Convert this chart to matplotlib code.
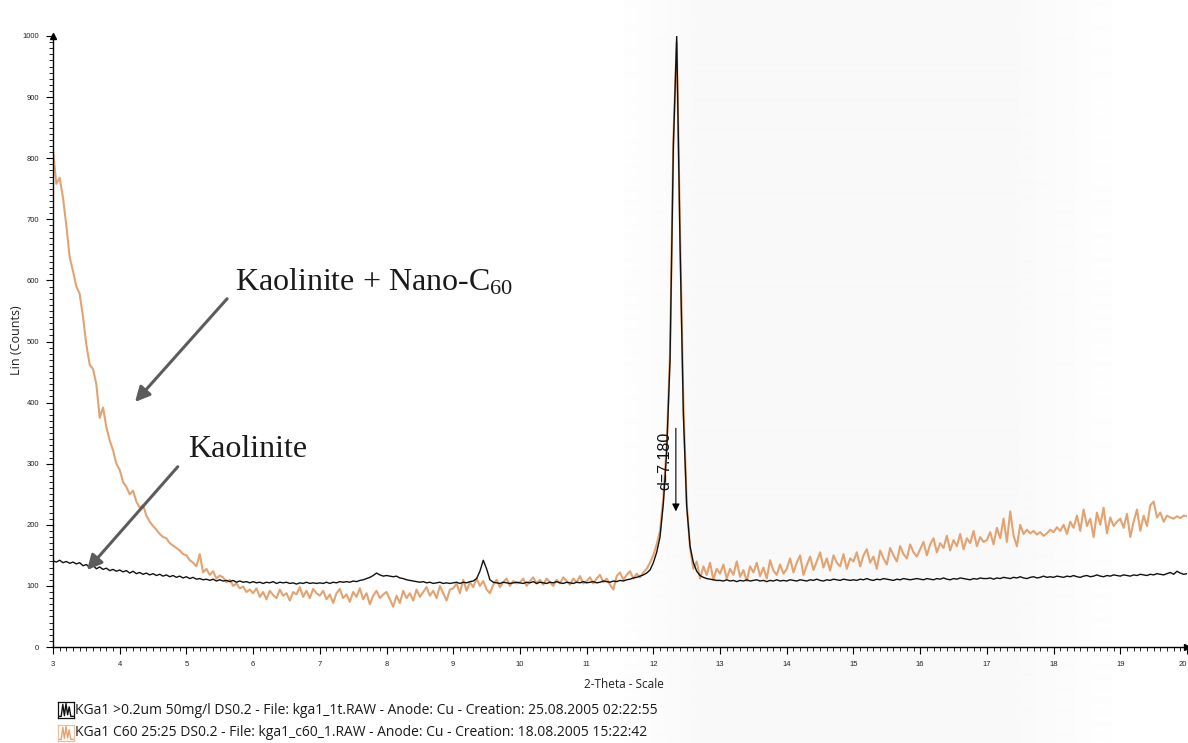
import numpy as np
import matplotlib
matplotlib.use("Agg")
import matplotlib.pyplot as plt
from matplotlib.patches import FancyArrowPatch
from matplotlib.ticker import MultipleLocator, FixedLocator

# ---------------------------------------------------------------------------
# Scan grid (2-Theta, Cu anode) and measured intensities, Lin (Counts)
# ---------------------------------------------------------------------------
scan_start, scan_end, scan_step = 3.0, 20.0, 0.05
two_theta = np.round(np.arange(scan_start, scan_end + scan_step / 2, scan_step), 2)

# KGa1 >0.2um 50mg/l  (one row per degree: x.00 ... x.95)
kaolinite_counts = (
    [141, 139, 142, 138, 140, 137, 139, 136, 138, 133, 135, 130, 134, 128, 131, 127, 129, 125, 127, 124]
    + [126, 123, 125, 121, 124, 120, 122, 119, 121, 118, 120, 117, 119, 116, 118, 115, 117, 114, 116, 113]
    + [115, 112, 114, 111, 112, 110, 111, 109, 111, 108, 110, 108, 109, 107, 109, 106, 108, 106, 107, 105]
    + [107, 105, 106, 104, 106, 105, 107, 104, 106, 105, 106, 104, 105, 103, 105, 104, 106, 104, 105, 104]
    + [105, 104, 106, 104, 106, 105, 107, 106, 107, 106, 108, 107, 109, 110, 112, 114, 117, 121, 118, 116]
    + [117, 116, 115, 116, 113, 112, 110, 109, 108, 107, 106, 107, 105, 106, 104, 105, 106, 104, 105, 104]
    + [105, 106, 104, 106, 105, 107, 108, 112, 124, 142, 128, 110, 106, 105, 104, 106, 105, 104, 105, 106]
    + [105, 104, 106, 105, 107, 104, 106, 105, 104, 106, 105, 107, 105, 104, 106, 105, 104, 106, 105, 107]
    + [105, 106, 107, 105, 106, 108, 107, 106, 108, 107, 109, 108, 110, 111, 113, 114, 116, 118, 121, 126]
    + [138, 155, 180, 235, 320, 470, 820, 1000, 660, 380, 230, 165, 138, 124, 117, 114, 112, 111, 110, 109]
    + [109, 108, 110, 108, 109, 107, 109, 108, 110, 108, 109, 110, 108, 109, 107, 109, 108, 110, 108, 109]
    + [108, 110, 109, 108, 110, 109, 108, 110, 109, 111, 109, 108, 110, 109, 111, 110, 109, 111, 110, 109]
    + [110, 109, 111, 110, 112, 110, 109, 111, 110, 112, 111, 110, 109, 111, 110, 112, 111, 110, 111, 112]
    + [111, 110, 112, 111, 110, 112, 111, 113, 111, 110, 112, 111, 113, 112, 111, 110, 112, 111, 113, 112]
    + [112, 113, 111, 113, 112, 114, 113, 112, 114, 113, 115, 113, 112, 114, 115, 113, 114, 116, 114, 115]
    + [114, 116, 115, 114, 116, 115, 117, 115, 114, 116, 117, 115, 116, 118, 116, 115, 117, 116, 118, 117]
    + [116, 118, 117, 116, 118, 117, 119, 118, 117, 119, 118, 120, 119, 118, 120, 122, 119, 124, 121, 119]
    + [120]
)

# KGa1 C60 25:25
kaolinite_c60_counts = (
    [812, 758, 768, 735, 690, 638, 615, 590, 578, 540, 495, 462, 455, 430, 375, 392, 360, 338, 322, 300]
    + [290, 270, 262, 250, 256, 238, 228, 232, 215, 205, 198, 192, 185, 180, 178, 170, 166, 162, 158, 152]
    + [150, 142, 138, 132, 152, 122, 128, 118, 124, 112, 117, 114, 106, 110, 100, 104, 96, 99, 90, 94]
    + [88, 96, 82, 90, 78, 92, 85, 80, 94, 84, 88, 76, 90, 86, 98, 82, 92, 80, 95, 88]
    + [84, 92, 78, 86, 72, 88, 95, 80, 86, 74, 90, 82, 96, 78, 88, 70, 84, 92, 80, 86]
    + [90, 78, 66, 84, 72, 92, 80, 88, 76, 94, 82, 90, 98, 84, 92, 80, 100, 88, 76, 94]
    + [96, 104, 88, 110, 92, 106, 98, 112, 100, 108, 94, 88, 102, 110, 98, 106, 112, 100, 108, 104]
    + [106, 112, 100, 108, 114, 104, 110, 102, 112, 106, 100, 110, 104, 114, 108, 102, 112, 106, 116, 104]
    + [108, 114, 104, 112, 118, 106, 112, 102, 94, 116, 122, 110, 118, 124, 112, 120, 114, 122, 128, 138]
    + [150, 168, 190, 245, 330, 480, 830, 990, 680, 400, 235, 162, 128, 140, 112, 132, 118, 138, 110, 128]
    + [120, 135, 112, 128, 118, 140, 115, 126, 108, 132, 122, 138, 116, 130, 112, 142, 125, 118, 135, 120]
    + [128, 145, 122, 138, 150, 118, 134, 148, 126, 140, 155, 130, 145, 125, 150, 138, 132, 152, 128, 145]
    + [140, 155, 132, 150, 160, 138, 148, 128, 158, 145, 135, 162, 150, 140, 165, 152, 145, 168, 155, 148]
    + [160, 172, 150, 168, 178, 155, 170, 162, 182, 158, 175, 165, 185, 160, 178, 170, 190, 165, 180, 172]
    + [175, 188, 168, 195, 178, 210, 172, 222, 182, 165, 200, 185, 192, 186, 190, 184, 188, 182, 186, 192]
    + [188, 196, 190, 200, 185, 205, 195, 215, 190, 225, 198, 210, 180, 220, 200, 228, 186, 212, 198, 205]
    + [210, 195, 218, 180, 205, 225, 190, 215, 198, 232, 238, 212, 220, 205, 215, 212, 210, 214, 211, 215]
    + [214]
)

x_ticks = list(range(3, 21))
y_ticks = list(range(0, 1001, 100))

legend_entries = [
    "KGa1 >0.2um 50mg/l DS0.2 - File: kga1_1t.RAW - Anode: Cu - Creation: 25.08.2005 02:22:55",
    "KGa1 C60 25:25 DS0.2 - File: kga1_c60_1.RAW - Anode: Cu - Creation: 18.08.2005 15:22:42",
]
callout_labels = ["Kaolinite + Nano-C$_{60}$", "Kaolinite"]

# d-spacing of the basal reflection (Angstrom) and Cu K-alpha wavelength
d_spacing = 7.180
wavelength = 1.5406

# ---------------------------------------------------------------------------
BLACK = "#111111"
ORANGE = "#E3A371"
ARROW_GREY = "#5c5c5c"

plt.rcParams["mathtext.fontset"] = "custom"
plt.rcParams["mathtext.rm"] = "Liberation Serif"
plt.rcParams["mathtext.it"] = "Liberation Serif:italic"

W, H = 1188, 743
fig = plt.figure(figsize=(W / 100, H / 100), dpi=100)
fig.patch.set_facecolor("white")

# faint grey shading of the scanned page behind the plot
shade_ax = fig.add_axes([0, 0, 1, 1], zorder=-1)
shade_ax.set_axis_off()
px = np.arange(W)
shade = np.clip(np.minimum((px - 610) / 90.0, (1130 - px) / 120.0), 0, 1) * 0.025
shade_ax.imshow(1 - shade[np.newaxis, :].repeat(2, axis=0), cmap="gray", vmin=0, vmax=1,
                aspect="auto", extent=(0, 1, 0, 1), interpolation="bilinear")
shade_ax.set_xlim(0, 1)
shade_ax.set_ylim(0, 1)

ax_left, ax_right, ax_bottom, ax_top = 53, 1187, 647, 36
ax = fig.add_axes([ax_left / W, (H - ax_bottom) / H,
                   (ax_right - ax_left) / W, (ax_bottom - ax_top) / H])
ax.set_facecolor("none")

ax.plot(two_theta, kaolinite_c60_counts, color=ORANGE, lw=1.5, zorder=2)
ax.plot(two_theta, kaolinite_counts, color=BLACK, lw=1.0, zorder=3)

ax.set_xlim(3, 20)
ax.set_ylim(0, 1000)

for side in ("top", "right"):
    ax.spines[side].set_visible(False)
for side in ("left", "bottom"):
    ax.spines[side].set_linewidth(1.0)
    ax.spines[side].set_color("black")

tick_font = dict(family="Liberation Sans", size=5.5)
ax.xaxis.set_major_locator(FixedLocator(x_ticks))
ax.xaxis.set_minor_locator(MultipleLocator(0.1))
ax.yaxis.set_major_locator(FixedLocator(y_ticks))
ax.yaxis.set_minor_locator(MultipleLocator(10))
ax.set_xticklabels([str(t) for t in x_ticks], fontdict=tick_font, color="#222222")
ax.set_yticklabels([str(t) for t in y_ticks], fontdict=tick_font, color="#222222")
ax.get_xticklabels()[-1].set_horizontalalignment("right")
ax.tick_params(axis="both", which="major", direction="out", length=5, width=0.8, pad=5)
ax.tick_params(axis="both", which="minor", direction="out", length=3, width=0.6)

# axis arrow heads
ax.plot([0], [1], marker="^", color="black", ms=5, transform=ax.transAxes, clip_on=False)
ax.plot([1], [0], marker=">", color="black", ms=5, transform=ax.transAxes, clip_on=False)

# axis titles
fig.text(17 / W, 1 - 340 / H, "Lin (Counts)", rotation=90, ha="center", va="center",
         family="Open Sans", size=9, color="#222222")
fig.text(624 / W, 1 - 684 / H, "2-Theta - Scale", ha="center", va="center",
         family="Open Sans", size=8.5, color="#222222")

# callouts
callout_specs = [
    dict(text_xy=(5.73, 583), tail=(5.61, 570), head=(4.23, 401)),
    dict(text_xy=(5.02, 311), tail=(4.87, 295), head=(3.51, 126)),
]
for label, spec in zip(callout_labels, callout_specs):
    ax.text(*spec["text_xy"], label, family="Liberation Serif", size=23,
            color="#1a1a1a", ha="left", va="baseline", zorder=5)
    ax.add_patch(FancyArrowPatch(spec["tail"], spec["head"], arrowstyle="-|>",
                                 mutation_scale=22, lw=2.2, color=ARROW_GREY,
                                 shrinkA=0, shrinkB=0, zorder=4))

# d-spacing marker on the basal reflection
peak_two_theta = 2 * np.degrees(np.arcsin(wavelength / (2 * d_spacing)))
ax.add_patch(FancyArrowPatch((peak_two_theta + 0.02, 358), (peak_two_theta + 0.02, 222),
                             arrowstyle="-|>", mutation_scale=11, lw=0.8,
                             color="black", shrinkA=0, shrinkB=0, zorder=5))
ax.text(peak_two_theta - 0.15, 304, f"d={d_spacing:.3f}", rotation=90,
        ha="center", va="center", family="Liberation Sans", size=11.5,
        color="#111111", zorder=5)

# legend rows: glyph + description
glyph_x = [0.05, 0.2, 0.3, 0.4, 0.5, 0.6, 0.7, 0.8, 0.95]
glyph_y = [0.1, 0.1, 0.85, 0.15, 0.9, 0.2, 0.7, 0.1, 0.1]
for i, (entry, col, box) in enumerate(zip(legend_entries, [BLACK, ORANGE], [BLACK, "#e8c09c"])):
    yc = 710 + 23 * i
    gax = fig.add_axes([58 / W, 1 - (yc + 8) / H, 16 / W, 16 / H])
    gax.plot(glyph_x, glyph_y, color=col, lw=1.0)
    gax.set_xlim(0, 1)
    gax.set_ylim(0, 1)
    gax.set_xticks([])
    gax.set_yticks([])
    for s in gax.spines.values():
        s.set_color(box)
        s.set_linewidth(0.9)
    fig.text(75 / W, 1 - yc / H, entry, ha="left", va="center",
             family="Open Sans", size=10, color="#1a1a1a")

fig.savefig("out.png", dpi=100)
